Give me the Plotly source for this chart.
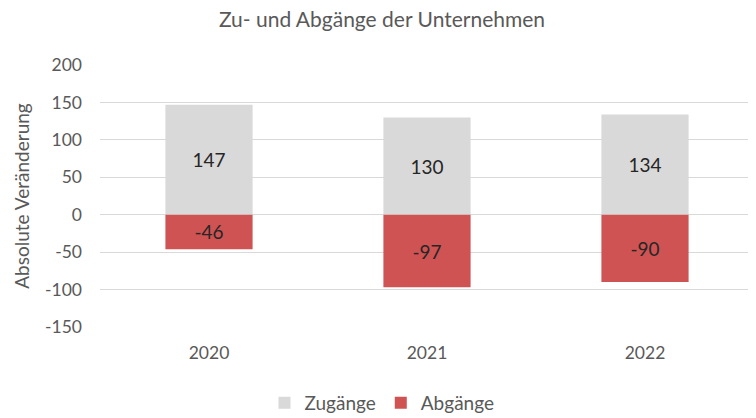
import plotly.graph_objects as go

# Data
years = ["2020", "2021", "2022"]
zugaenge = [147, 130, 134]
abgaenge = [-46, -97, -90]
y_ticks = [-150, -100, -50, 0, 50, 100, 150, 200]

font_family = "Lato, Open Sans, sans-serif"
text_grey = "#595959"

fig = go.Figure()

fig.add_trace(
    go.Bar(
        x=years,
        y=zugaenge,
        name="Zugänge",
        marker=dict(color="#d9d9d9", line=dict(width=0)),
        text=[str(v) for v in zugaenge],
        textposition="inside",
        insidetextanchor="middle",
        textfont=dict(color="#262626", size=19, family=font_family),
    )
)
fig.add_trace(
    go.Bar(
        x=years,
        y=abgaenge,
        name="Abgänge",
        marker=dict(color="#d05353", line=dict(width=0)),
        text=[str(v) for v in abgaenge],
        textposition="inside",
        insidetextanchor="middle",
        textfont=dict(color="#262626", size=19, family=font_family),
    )
)

# the page body adds an 8px margin, so the figure is a bit smaller than the window
fig.update_layout(
    barmode="relative",
    bargap=0.6,
    width=748,
    height=410,
    margin=dict(l=92, r=2, t=57, b=91, autoexpand=False),
    paper_bgcolor="white",
    plot_bgcolor="white",
    font=dict(family=font_family, color=text_grey, size=17),
    title=dict(
        text="Zu- und Abgänge der Unternehmen",
        x=0.5,
        xanchor="center",
        y=0.972,
        yanchor="middle",
        font=dict(size=21, color=text_grey, family=font_family),
    ),
    xaxis=dict(
        showgrid=False,
        showline=False,
        ticks="",
        ticklabelstandoff=13,
        tickfont=dict(size=17.5, color=text_grey),
    ),
    yaxis=dict(
        range=[-150, 200],
        tickvals=y_ticks,
        ticktext=[str(v) for v in y_ticks],
        showgrid=True,
        gridcolor="#d9d9d9",
        gridwidth=1,
        zeroline=False,
        showline=False,
        ticks="",
        ticklabelstandoff=17,
        tickfont=dict(size=17.5, color=text_grey),
        title=dict(text="Absolute Veränderung", font=dict(size=19, color=text_grey), standoff=10),
    ),
    legend=dict(
        orientation="h",
        x=0.5,
        xanchor="center",
        xref="container",
        yref="container",
        y=0.037,
        yanchor="middle",
        font=dict(size=19, color=text_grey),
        itemwidth=30,
        traceorder="normal",
    ),
)

fig.write_html("out.html")
